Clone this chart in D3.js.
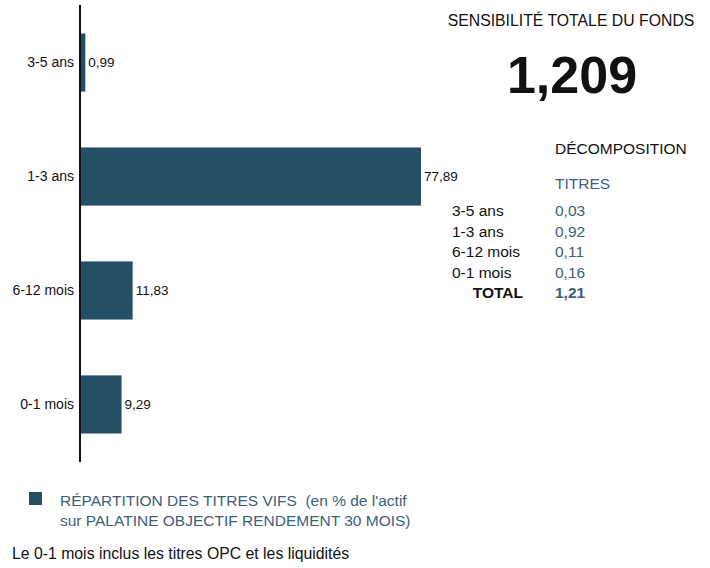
<!DOCTYPE html>
<html>
<head>
<meta charset="utf-8">
<title>sensibilite</title>
<script src="https://d3js.org/d3.v7.min.js"></script>
<style>
  body { margin: 0; background: #fff; }
  text { font-family: "Liberation Sans", Arial, sans-serif; }
</style>
</head>
<body>
<svg class="chart"></svg>
<script>
var categories = ["3-5 ans", "1-3 ans", "6-12 mois", "0-1 mois"];
var values = [0.99, 77.89, 11.83, 9.29];
var valueLabels = ["0,99", "77,89", "11,83", "9,29"];

var decompLabels = ["3-5 ans", "1-3 ans", "6-12 mois", "0-1 mois"];
var decompValues = ["0,03", "0,92", "0,11", "0,16"];
var decompTotal = "1,21";
var sensibilite = "1,209";

var barColor = "#254f64";
var blueText = "#3d5f78";
var fs = 15.5;

var svgWidth = 710, svgHeight = 568;
var svg = d3.select(".chart").attr("width", svgWidth).attr("height", svgHeight);

var axisX = 80;
var xScale = d3.scaleLinear().domain([0, 77.89]).range([axisX + 1, 421]);
var yScale = d3.scaleBand().domain(categories).range([5, 462])
    .paddingInner(0.49).paddingOuter(0.25);

// bars
svg.selectAll(".bar").data(values).enter().append("rect")
    .attr("class", "bar")
    .attr("x", xScale(0))
    .attr("y", function(d, i) { return yScale(categories[i]); })
    .attr("width", function(d) { return xScale(d) - xScale(0); })
    .attr("height", yScale.bandwidth())
    .attr("fill", barColor);

// value labels
svg.selectAll(".val").data(values).enter().append("text")
    .attr("class", "val")
    .attr("x", function(d) { return xScale(d) + 3; })
    .attr("y", function(d, i) { return yScale(categories[i]) + yScale.bandwidth() / 2; })
    .attr("dy", "0.35em")
    .attr("font-size", 13.5)
    .attr("fill", "#111")
    .text(function(d, i) { return valueLabels[i]; });

// category labels
svg.selectAll(".cat").data(categories).enter().append("text")
    .attr("class", "cat")
    .attr("x", axisX - 6)
    .attr("y", function(d) { return yScale(d) + yScale.bandwidth() / 2; })
    .attr("dy", "0.35em")
    .attr("text-anchor", "end")
    .attr("font-size", 14)
    .attr("fill", "#111")
    .text(function(d) { return d; });

// axis line
svg.append("line")
    .attr("x1", axisX).attr("x2", axisX)
    .attr("y1", 5).attr("y2", 462)
    .attr("stroke", "#111").attr("stroke-width", 2);

// right panel
svg.append("text")
    .attr("x", 571).attr("y", 26)
    .attr("text-anchor", "middle")
    .attr("font-size", 15.8)
    .attr("fill", "#111")
    .text("SENSIBILITÉ TOTALE DU FONDS");

svg.append("text")
    .attr("x", 572).attr("y", 93)
    .attr("text-anchor", "middle")
    .attr("font-size", 52)
    .attr("font-weight", "bold")
    .attr("fill", "#111")
    .text(sensibilite);

svg.append("text")
    .attr("x", 555).attr("y", 154)
    .attr("font-size", fs)
    .attr("fill", "#111")
    .text("DÉCOMPOSITION");

svg.append("text")
    .attr("x", 555).attr("y", 189)
    .attr("font-size", fs)
    .attr("fill", blueText)
    .text("TITRES");

var rowY = d3.scalePoint().domain(decompLabels.concat(["TOTAL"])).range([216, 298]);

svg.selectAll(".dl").data(decompLabels).enter().append("text")
    .attr("class", "dl")
    .attr("x", 452)
    .attr("y", function(d) { return rowY(d); })
    .attr("font-size", fs)
    .attr("fill", "#111")
    .text(function(d) { return d; });

svg.selectAll(".dv").data(decompValues).enter().append("text")
    .attr("class", "dv")
    .attr("x", 555)
    .attr("y", function(d, i) { return rowY(decompLabels[i]); })
    .attr("font-size", fs)
    .attr("fill", blueText)
    .text(function(d) { return d; });

svg.append("text")
    .attr("x", 523).attr("y", rowY("TOTAL"))
    .attr("text-anchor", "end")
    .attr("font-size", fs)
    .attr("font-weight", "bold")
    .attr("fill", "#111")
    .text("TOTAL");

svg.append("text")
    .attr("x", 555).attr("y", rowY("TOTAL"))
    .attr("font-size", fs)
    .attr("font-weight", "bold")
    .attr("fill", blueText)
    .text(decompTotal);

// legend
svg.append("rect")
    .attr("x", 29).attr("y", 492)
    .attr("width", 13).attr("height", 13)
    .attr("fill", barColor);

svg.append("text")
    .attr("x", 60).attr("y", 506)
    .attr("font-size", fs)
    .attr("fill", blueText)
    .attr("xml:space", "preserve")
    .text("RÉPARTITION DES TITRES VIFS  (en % de l'actif");

svg.append("text")
    .attr("x", 60).attr("y", 526)
    .attr("font-size", fs)
    .attr("fill", blueText)
    .text("sur PALATINE OBJECTIF RENDEMENT 30 MOIS)");

svg.append("text")
    .attr("x", 12).attr("y", 559)
    .attr("font-size", 15.8)
    .attr("fill", "#111")
    .text("Le 0-1 mois inclus les titres OPC et les liquidités");
</script>
</body>
</html>
